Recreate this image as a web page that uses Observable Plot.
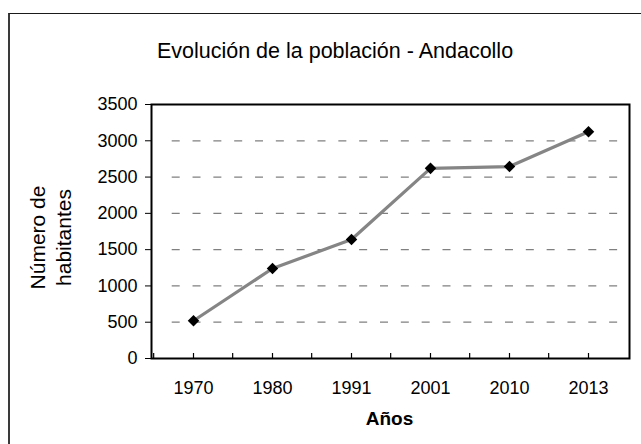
<!DOCTYPE html>
<html>
<head>
<meta charset="utf-8">
<script src="https://cdn.jsdelivr.net/npm/d3@7"></script>
<script src="https://cdn.jsdelivr.net/npm/@observablehq/plot@0.6"></script>
<style>
  html, body { margin: 0; padding: 0; background: #fff; }
  #wrap { position: relative; width: 641px; height: 444px; overflow: hidden; background: #fff; }
  #wrap svg { position: absolute; left: 0; top: 0; }
  #border { position: absolute; left: 8px; top: 13px; width: 700px; height: 500px;
            border-left: 2px solid #3a3a3a; border-top: 1px solid #1a1a1a; pointer-events: none; }
</style>
</head>
<body>
<div id="wrap"><div id="border"></div></div>
<script>
// ---- data ----
const years = ["1970", "1980", "1991", "2001", "2010", "2013"];
const population = [520, 1240, 1640, 2620, 2645, 3125];
const yTicks = [0, 500, 1000, 1500, 2000, 2500, 3000, 3500];
const gridValues = [500, 1000, 1500, 2000, 2500, 3000];
const titleText = "Evolución de la población - Andacollo";
const yLabelText = "Número de\nhabitantes";
const xLabelText = "Años";

const rows = years.map((y, i) => ({year: y, pop: population[i]}));

const W = 641, H = 444;
const mL = 151, mR = 12, mT = 104, mB = 86;
const halfStep = (W - mL - mR) / years.length / 2;
const font = "'Liberation Sans', Arial, Helvetica, sans-serif";

const chart = Plot.plot({
  width: W,
  height: H,
  marginLeft: mL,
  marginRight: mR,
  marginTop: mT,
  marginBottom: mB,
  style: {fontFamily: font, fontSize: "18px", color: "#000", background: "transparent"},
  x: {type: "point", domain: years, padding: 0.5, label: null, tickSize: 0, tickPadding: 23},
  y: {domain: [0, 3500], ticks: yTicks, tickFormat: d3.format("d"), label: null, tickSize: 6, tickPadding: 8},
  marks: [
    Plot.ruleY(gridValues, {y: d => d, stroke: "#808080", strokeWidth: 1.3,
      strokeDasharray: "8,12.83", insetLeft: 20.7}),
    // inward tick marks on the category axis: at category centres and at band boundaries
    Plot.ruleX(years, {x: d => d, stroke: "#000", strokeWidth: 1.2, insetTop: 249}),
    Plot.ruleX(years, {x: d => d, dx: -halfStep, stroke: "#000", strokeWidth: 1.2, insetTop: 249}),
    Plot.line(rows, {x: "year", y: "pop", stroke: "#858585", strokeWidth: 3.2}),
    Plot.dot(rows, {x: "year", y: "pop", symbol: "diamond2", r: 5.2, fill: "#000", stroke: null}),
    Plot.frame({stroke: "#000", strokeWidth: 2}),
    Plot.text([titleText], {frameAnchor: "top", dx: -55.5, dy: -61.7, fontSize: 21.5, fill: "#000"}),
    Plot.text([yLabelText], {frameAnchor: "left", textAnchor: "middle", rotate: -90, lineHeight: 1.24,
      dx: -101.5, dy: 6, fontSize: 21, fill: "#000"}),
    Plot.text([xLabelText], {frameAnchor: "bottom", dx: -1, dy: 66.9, fontSize: 19,
      fontWeight: "bold", fill: "#000"})
  ]
});
document.getElementById("wrap").insertBefore(chart, document.getElementById("border"));
</script>
</body>
</html>
